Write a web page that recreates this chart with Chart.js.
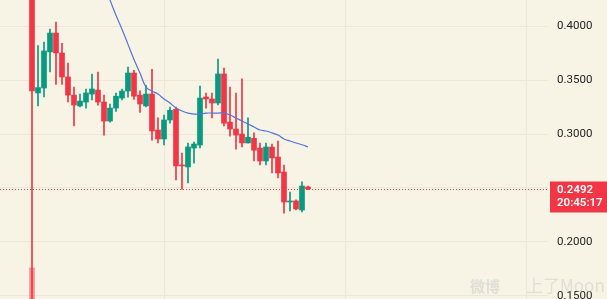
<!DOCTYPE html>
<html>
<head>
<meta charset="utf-8">
<script src="https://cdn.jsdelivr.net/npm/chart.js@4"></script>
<style>
  html, body { margin:0; padding:0; background:#f8f4e5; }
  #wrap { width:607px; height:299px; position:relative; }
</style>
</head>
<body>
<div id="wrap"><canvas id="kChart"></canvas></div>
<script>
// candles (index 0 = first visible candle)
const opens  = [0.460,0.338,0.3426,0.376,0.3935,0.375,0.3528,0.336,0.326,0.3296,0.337,0.3407,0.3296,0.312,0.324,0.3333,0.3398,0.3565,0.336,0.326,
                0.337,0.3037,0.2954,0.313,0.323,0.2713,0.2695,0.287,0.2898,0.3343,0.3324,0.3287,0.3556,0.311,0.3046,0.300,0.2917,0.296,0.287,0.275,
                0.2879,0.2787,0.2648,0.237,0.238,0.2296,0.251];
const closes = [0.340,0.343,0.3769,0.3935,0.375,0.3528,0.336,0.3268,0.3305,0.338,0.3417,0.3296,0.312,0.324,0.335,0.3398,0.3565,0.335,0.3278,0.337,
                0.3028,0.2954,0.313,0.322,0.2704,0.2704,0.288,0.2907,0.3333,0.3324,0.3287,0.3556,0.310,0.3046,0.299,0.2917,0.297,0.285,0.275,0.288,
                0.2778,0.2639,0.237,0.238,0.2306,0.2518,0.2492];
const highs  = [0.470,0.382,0.3852,0.3972,0.4037,0.384,0.3657,0.3435,0.337,0.3417,0.3556,0.3574,0.336,0.3278,0.338,0.3417,0.362,0.359,0.340,0.345,
                0.360,0.315,0.3176,0.325,0.325,0.2824,0.2917,0.2926,0.3444,0.338,0.338,0.3694,0.361,0.3435,0.338,0.351,0.315,0.301,0.2917,0.2917,
                0.2907,0.2935,0.2713,0.2463,0.239,0.2556,0.2518];
const lows   = [0.140,0.326,0.3343,0.3574,0.346,0.346,0.3296,0.3074,0.325,0.324,0.3315,0.3268,0.299,0.311,0.321,0.3315,0.334,0.332,0.320,0.325,
                0.2944,0.2917,0.290,0.310,0.2574,0.249,0.2546,0.273,0.287,0.324,0.315,0.327,0.3074,0.298,0.286,0.288,0.2917,0.275,0.2713,0.2713,
                0.2639,0.2593,0.2268,0.2287,0.2296,0.2278,0.2485];
// moving average, starts at candle 10 (above the visible range at first)
const maStart = 10;
const maVals = [0.465,0.451,0.438,0.424,0.410,0.397,0.383,0.369,0.3565,0.3435,
                0.3398,0.337,0.3324,0.3287,0.324,0.3213,0.3194,0.3185,0.3185,0.3194,0.3194,0.3194,0.3194,0.3176,0.3148,0.312,0.3093,0.3065,0.3037,0.3028,
                0.301,0.299,0.2954,0.2935,0.2917,0.290,0.288];
// volume: only the first bar is visible
const volumes = [3.1];
const yTicks = [0.15,0.20,0.25,0.30,0.35,0.40];
const lastTime = '20:45:17';

const UP = '#089981', DOWN = '#f23645';
const cols = opens.map((o,i) => closes[i] >= o ? UP : DOWN);
const last = closes[closes.length-1];

const wicks = lows.map((l,i) => ({ x:i, y:[l, highs[i]] }));
const bodies = opens.map((o,i) => ({ x:i, y:[Math.min(o,closes[i]), Math.max(o,closes[i])] }));
const ma = maVals.map((v,i) => ({ x:maStart+i, y:v }));
const vol = volumes.map((v,i) => ({ x:i, y:v }));

const noPad = s => { s.paddingTop = 0; s.paddingBottom = 0; s.paddingLeft = 0; s.paddingRight = 0; };

const priceTag = {
  id:'priceTag',
  afterDatasetsDraw(chart) {
    const { ctx, chartArea:a, scales:{ y } } = chart;
    const py = Math.round(y.getPixelForValue(last)) + 0.5;
    ctx.save();
    ctx.strokeStyle = DOWN; ctx.lineWidth = 1; ctx.setLineDash([1,2]);
    ctx.beginPath(); ctx.moveTo(a.left, py); ctx.lineTo(a.right, py); ctx.stroke();
    ctx.setLineDash([]);
    ctx.fillStyle = DOWN;
    ctx.fillRect(a.right+2, py-8, 607-a.right-2, 31);
    ctx.fillStyle = '#fff';
    ctx.font = '600 11.5px Roboto';
    ctx.textBaseline = 'middle';
    ctx.fillText(last.toFixed(4), a.right+9, py+0.5);
    ctx.fillText(lastTime, a.right+9, py+14);
    ctx.restore();
  },
  beforeDatasetsDraw(chart) {
    const { ctx } = chart;
    ctx.save();
    ctx.fillStyle = 'rgba(200,200,200,0.5)';
    ctx.font = 'bold 15px "Noto Sans CJK SC"';
    ctx.textBaseline = 'middle';
    ctx.fillText('微博', 470, 286);
    ctx.font = '17px "Noto Sans CJK SC"';
    ctx.fillText('上了Moon', 526, 286);
    ctx.restore();
  }
};

new Chart(document.getElementById('kChart'), {
  type: 'bar',
  data: {
    datasets: [
      { type:'line', data:ma, borderColor:'#5273dc', borderWidth:1.2, pointRadius:0, tension:0.4, order:0 },
      { data:bodies, backgroundColor:cols, barThickness:5, minBarLength:1, grouped:false, order:1 },
      { data:wicks, backgroundColor:cols, barThickness:1, grouped:false, order:2 },
      { data:vol, yAxisID:'yv', backgroundColor:'rgba(242,54,69,0.5)', barThickness:5, grouped:false, order:3 }
    ]
  },
  options: {
    responsive:true, maintainAspectRatio:false, animation:false,
    layout:{ padding:0, autoPadding:false },
    plugins:{ legend:{ display:false }, tooltip:{ enabled:false } },
    scales:{
      x:{ type:'linear', min:-32/6, max:-32/6+548/6, offset:false,
          grid:{ color:'#ece7d6', drawTicks:false, offset:false }, border:{ display:false },
          ticks:{ display:false },
          afterBuildTicks:s => { s.ticks = [{value:22},{value:52.2},{value:82.4}]; },
          afterFit:s => { s.height = 0; noPad(s); } },
      y:{ position:'right', min:0.1472, max:0.4241,
          grid:{ color:'#ece7d6', drawTicks:false }, border:{ display:false },
          afterBuildTicks:s => { s.ticks = yTicks.map(v => ({ value:v })); },
          ticks:{ padding:9, color:'#222', font:{ size:11.5, family:'Roboto' },
                  callback:v => Math.abs(v-0.25) < 1e-6 ? '' : v.toFixed(4) },
          afterFit:s => { s.width = 59; noPad(s); } },
      yv:{ display:false, min:0, max:29.9 }
    }
  },
  plugins:[priceTag]
});
</script>
</body>
</html>
